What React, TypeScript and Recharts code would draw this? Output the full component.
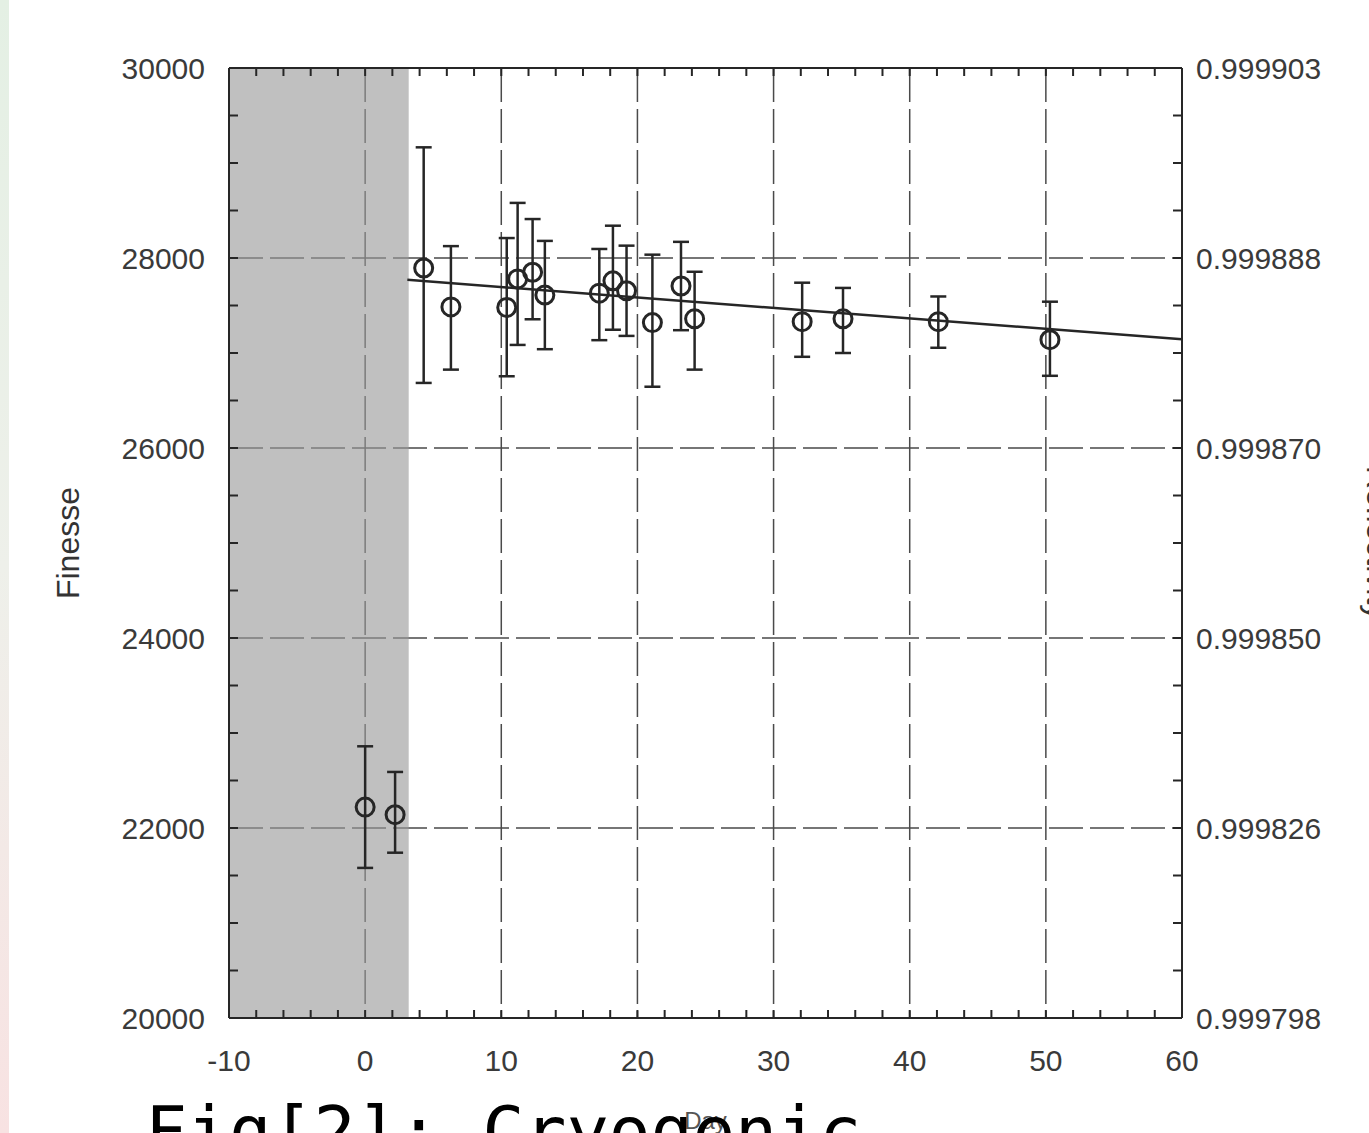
import React from "react";
import {
  ComposedChart,
  Scatter,
  Line,
  ErrorBar,
  XAxis,
  YAxis,
  CartesianGrid,
  ReferenceArea,
} from "recharts";

// measured points (day, finesse, error down / up)
const days = [0, 2.2, 4.3, 6.3, 10.4, 11.2, 12.3, 13.2, 17.2, 18.2, 19.2, 21.1, 23.2, 24.2, 32.1, 35.1, 42.1, 50.3];
const finesse = [22220, 22140, 27895, 27485, 27480, 27780, 27850, 27610, 27630, 27760, 27655, 27320, 27705, 27360, 27330, 27360, 27330, 27140];
const errDown = [640, 400, 1210, 660, 725, 695, 495, 570, 495, 515, 475, 675, 465, 535, 370, 360, 275, 380];
const errUp = [640, 450, 1270, 640, 730, 800, 560, 570, 465, 580, 475, 715, 465, 495, 410, 325, 265, 400];

// linear fit
const fitDays = [3.1, 60];
const fitFinesse = [27770, 27145];

// cool-down period (shaded)
const shadeFrom = -10;
const shadeTo = 3.2;

const dayTicks = [-10, -8, -6, -4, -2, 0, 2, 4, 6, 8, 10, 12, 14, 16, 18, 20, 22, 24, 26, 28, 30, 32, 34, 36, 38, 40, 42, 44, 46, 48, 50, 52, 54, 56, 58, 60];
const dayLabels = [-10, 0, 10, 20, 30, 40, 50, 60];
const finesseTicks = [20000, 20500, 21000, 21500, 22000, 22500, 23000, 23500, 24000, 24500, 25000, 25500, 26000, 26500, 27000, 27500, 28000, 28500, 29000, 29500, 30000];
const finesseLabels = [20000, 22000, 24000, 26000, 28000, 30000];
const reflLabels = ["0.999798", "0.999826", "0.999850", "0.999870", "0.999888", "0.999903"];

const points = days.map((d, i) => ({ day: d, f: finesse[i], err: [errDown[i], errUp[i]] }));
const fit = fitDays.map((d, i) => ({ day: d, f: fitFinesse[i] }));

const INK = "#262626";
const tickStyle = { fill: "#3a3a3a", fontSize: 30, fontFamily: "Liberation Sans, Arial, sans-serif" };

const OpenCircle = (props: any) => (
  <circle cx={props.cx} cy={props.cy} r={9} fill="none" stroke={INK} strokeWidth={3} />
);

const dayFmt = (v: number) => (dayLabels.includes(v) ? String(v) : "");
const finFmt = (v: number) => (finesseLabels.includes(v) ? String(v) : "");
const reflFmt = (v: number) => {
  const i = finesseLabels.indexOf(v);
  return i >= 0 ? reflLabels[i] : "";
};

export default function App() {
  return (
    <div style={{ position: "absolute", left: 0, top: 0, width: 1369, height: 1133, background: "#fff", fontFamily: "Liberation Sans, Arial, sans-serif" }}>
      <div
        style={{
          position: "absolute",
          left: 0,
          top: 0,
          width: 9,
          height: 1133,
          background: "linear-gradient(#e4f0e4, #eef0ea 50%, #f8e2e2)",
        }}
      />
      <ComposedChart width={1369} height={1133} margin={{ top: 67, right: 0, bottom: 0, left: 0 }}>
        <ReferenceArea x1={shadeFrom} x2={shadeTo} fill="#9a9a9a" fillOpacity={0.62} stroke="none" />
        <CartesianGrid
          stroke="#4a4a4a"
          strokeWidth={1.5}
          strokeDasharray="34 7"
          verticalValues={[0, 10, 20, 30, 40, 50]}
          horizontalValues={[22000, 24000, 26000, 28000]}
        />
        <XAxis
          type="number"
          dataKey="day"
          domain={[-10, 60]}
          ticks={dayTicks}
          interval={0}
          tickSize={-8}
          tickMargin={40}
          tickFormatter={dayFmt}
          tick={tickStyle}
          height={115}
          stroke={INK}
          strokeWidth={2}
          label={{ value: "Day", position: "insideBottom", offset: 4, fill: "#555", fontSize: 24 }}
        />
        <XAxis
          xAxisId="top"
          orientation="top"
          type="number"
          dataKey="day"
          domain={[-10, 60]}
          ticks={dayTicks}
          interval={0}
          tickSize={-8}
          tickFormatter={() => ""}
          height={1}
          stroke={INK}
          strokeWidth={2}
        />
        <YAxis
          type="number"
          domain={[20000, 30000]}
          ticks={finesseTicks}
          interval={0}
          width={229}
          tickSize={-9}
          tickMargin={33}
          tickFormatter={finFmt}
          tick={tickStyle}
          stroke={INK}
          strokeWidth={2}
          label={{ value: "Finesse", angle: -90, position: "insideLeft", offset: 68, fill: "#333", fontSize: 32, style: { textAnchor: "middle" } }}
        />
        <YAxis
          yAxisId="right"
          orientation="right"
          type="number"
          domain={[20000, 30000]}
          ticks={finesseTicks}
          interval={0}
          width={187}
          tickSize={-9}
          tickMargin={23}
          tickFormatter={reflFmt}
          tick={tickStyle}
          stroke={INK}
          strokeWidth={2}
          label={{ value: "Reflectivity", angle: 90, position: "insideRight", offset: -9, fill: "#333", fontSize: 32, style: { textAnchor: "middle" } }}
        />
        {/* fit drawn against the right axis (same finesse domain) so that axis gets its ticks */}
        <Line
          data={fit}
          dataKey="f"
          xAxisId="top"
          yAxisId="right"
          type="linear"
          stroke={INK}
          strokeWidth={2.5}
          dot={false}
          isAnimationActive={false}
        />
        <Scatter data={points} dataKey="f" shape={OpenCircle} isAnimationActive={false}>
          <ErrorBar dataKey="err" direction="y" width={8} stroke={INK} strokeWidth={2.5} isAnimationActive={false} />
        </Scatter>
      </ComposedChart>
      <div
        style={{
          position: "absolute",
          left: 145,
          top: 1097,
          fontFamily: "DejaVu Sans Mono, monospace",
          fontSize: 70,
          lineHeight: 1,
          color: "#000",
          whiteSpace: "nowrap",
        }}
      >
        Fig[2]: Cryogenic
      </div>
    </div>
  );
}
